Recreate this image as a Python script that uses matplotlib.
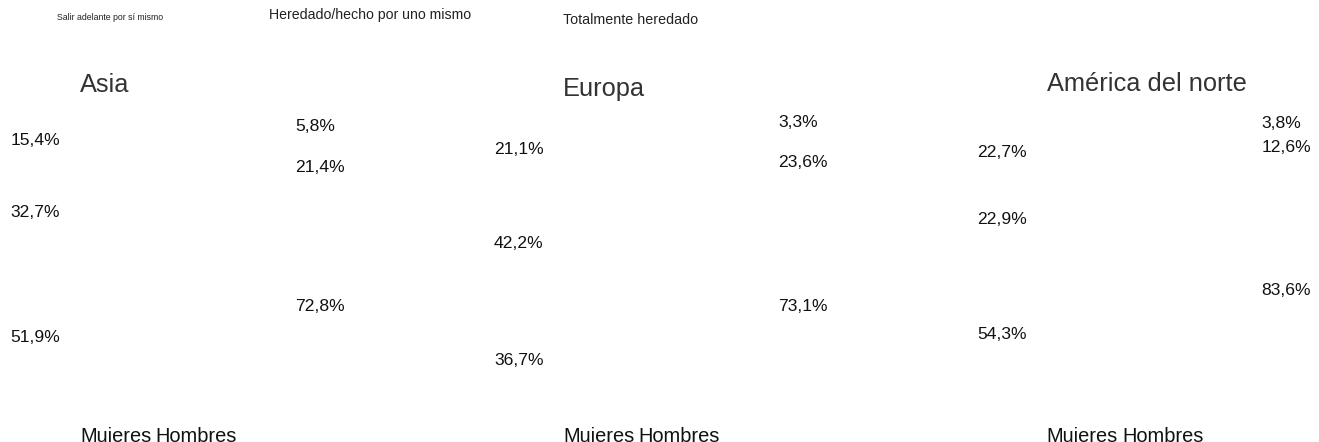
import matplotlib.pyplot as plt

plt.rcParams['font.family'] = ['Liberation Sans', 'DejaVu Sans']

regions = ['Asia', 'Europa', 'América del norte']
groups = ['Mujeres', 'Hombres']
series = ['Salir adelante por sí mismo', 'Heredado/hecho por uno mismo', 'Totalmente heredado']

# stacked from the bottom: salir adelante, heredado/hecho, totalmente heredado
mujeres_salir = [51.9, 36.7, 54.3]
mujeres_heredado_hecho = [32.7, 42.2, 22.9]
mujeres_heredado = [15.4, 21.1, 22.7]
hombres_salir = [72.8, 73.1, 83.6]
hombres_heredado_hecho = [21.4, 23.6, 12.6]
hombres_heredado = [5.8, 3.3, 3.8]


def pct(v):
    return ('%.1f' % v).replace('.', ',') + '%'


W, H = 1319, 442
fig = plt.figure(figsize=(W / 100, H / 100), dpi=100)

# legend texts (the swatches are not drawn in the reference)
fig.text(57 / W, 1 - 19.5 / H, series[0], fontsize=6.3, color='#222222', va='baseline')
fig.text(269 / W, 1 - 19.5 / H, series[1], fontsize=10.2, color='#222222', va='baseline')
fig.text(563 / W, 1 - 24 / H, series[2], fontsize=10.3, color='#222222', va='baseline')

panel_step = 483.3
title_base = [91.5, 96, 91]
bar_x = [115.5, 196]

for k in range(3):
    ax = fig.add_axes([k * panel_step / W, 27 / H, 483 / W, 297 / H])
    ax.set_xlim(0, 483)
    ax.set_ylim(0, 100)
    stacks = [
        [mujeres_salir[k], mujeres_heredado_hecho[k], mujeres_heredado[k]],
        [hombres_salir[k], hombres_heredado_hecho[k], hombres_heredado[k]],
    ]
    for g in range(2):
        bottom = 0
        for v in stacks[g]:
            ax.bar(bar_x[g], v, bottom=bottom, width=60, color='none', edgecolor='none')
            if g == 0:
                ax.text(35.5, bottom + v / 2, pct(v), fontsize=12.6, ha='center', va='center', color='#111111')
            else:
                ax.text(295, bottom + v / 2, pct(v), fontsize=12.6, ha='left', va='center', color='#111111')
            bottom += v

    ax.text(80, (415 - title_base[k]) / 2.97, regions[k], fontsize=18.3, color='#333333',
            ha='left', va='baseline', clip_on=False)

    ax.set_xticks(bar_x)
    ax.set_xticklabels(groups, fontsize=14.4, color='#111111')
    ax.tick_params(axis='x', length=0, pad=8.6)
    ax.set_yticks([])
    for s in ax.spines.values():
        s.set_visible(False)
    ax.patch.set_alpha(0)

plt.savefig('out.png', dpi=100)
